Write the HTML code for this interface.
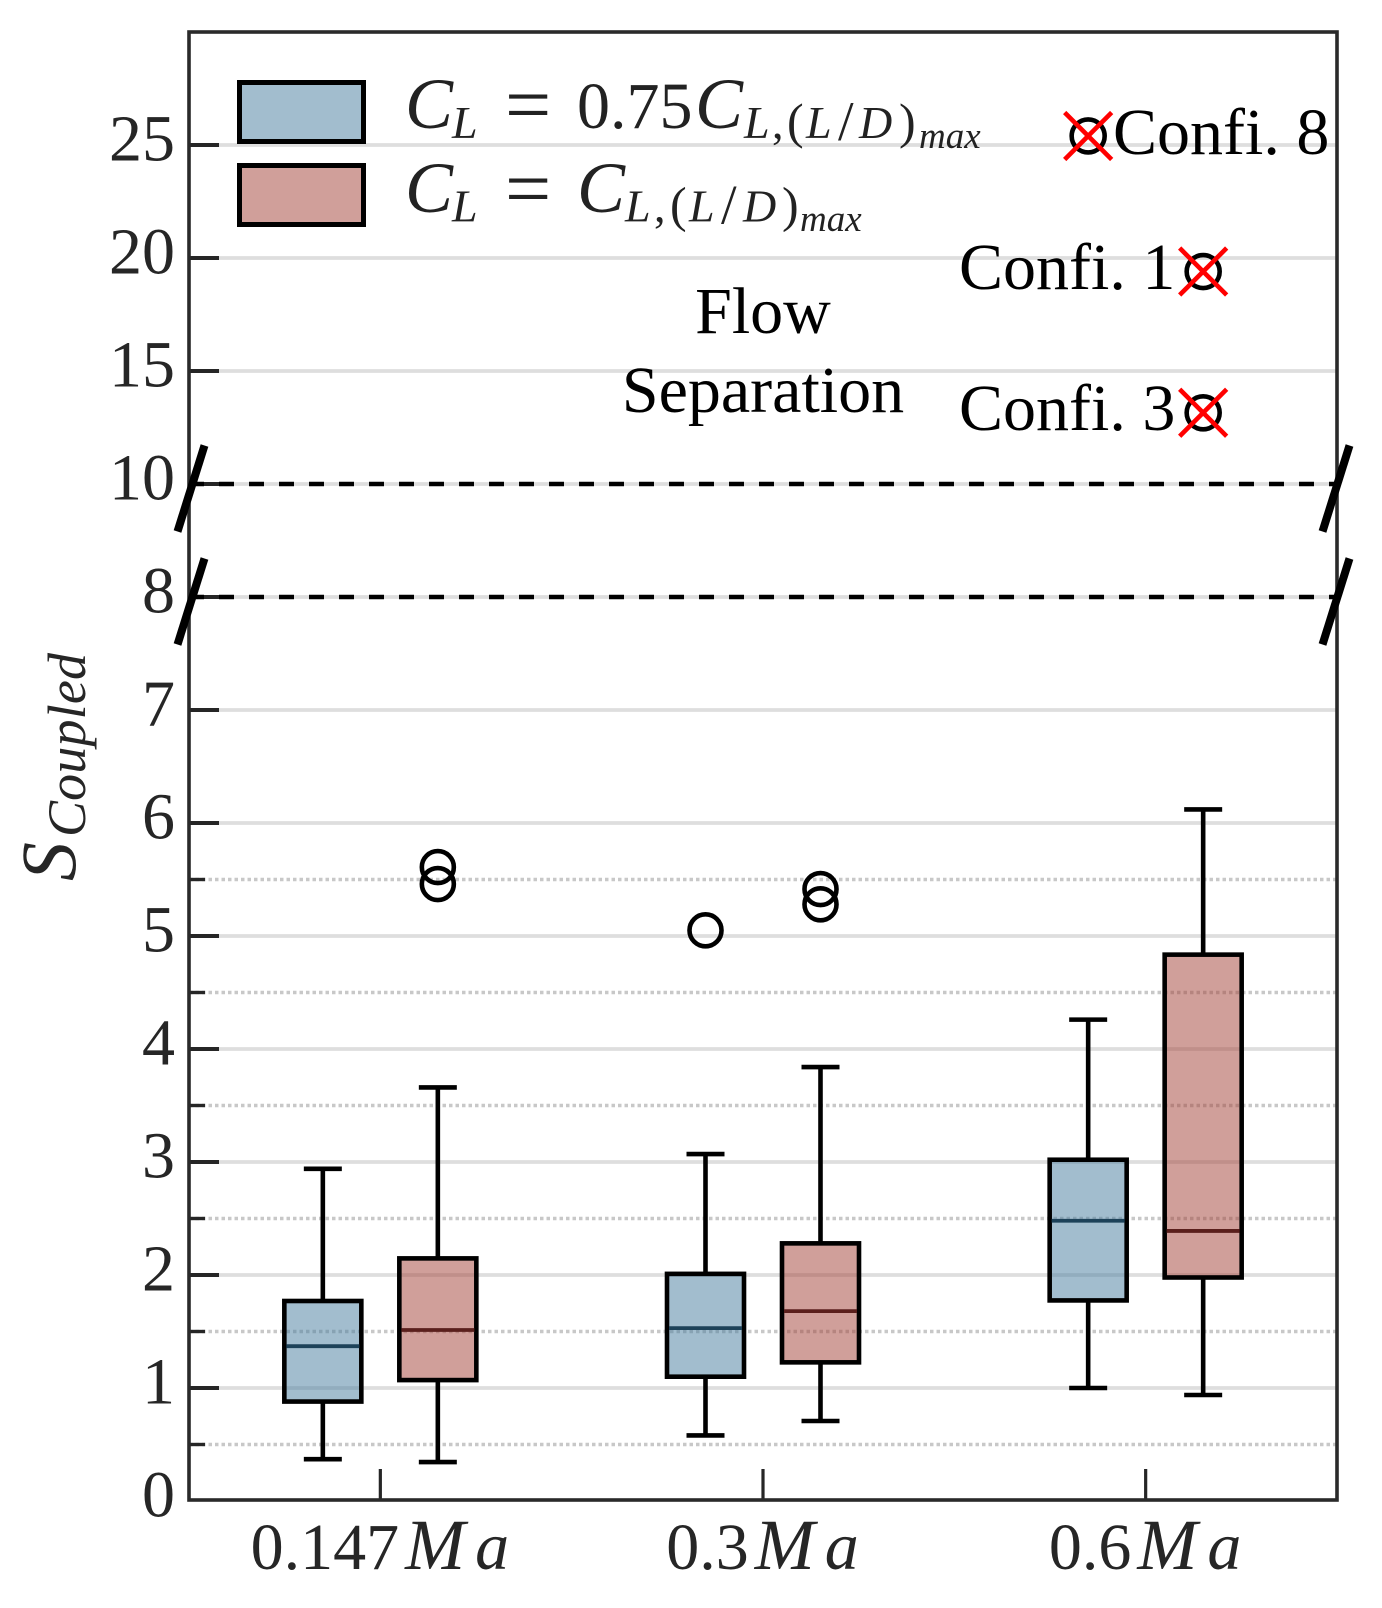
<!DOCTYPE html>
<html lang="en">
<head>
<meta charset="utf-8">
<title>S Coupled box plot</title>
<style>
html,body{margin:0;padding:0;background:#fff;width:1382px;height:1608px;overflow:hidden}
svg{display:block;font-family:"Liberation Serif",serif}
.it{font-style:italic}
</style>
</head>
<body>
<svg id="chart" xmlns="http://www.w3.org/2000/svg" width="1382" height="1608" viewBox="0 0 1382 1608">
  <rect x="0" y="0" width="1382" height="1608" fill="#fff"/>
  <g id="grid"></g>
  <g id="ticks"></g>
  <g id="boxes"></g>
  <g id="markers"></g>
  <g id="frame"></g>

  <g>
    <rect x="239.5" y="82.5" width="124" height="59" fill="#a2bdce" stroke="#000" stroke-width="5"/>
    <rect x="239.5" y="165.5" width="124" height="59" fill="#d09f9a" stroke="#000" stroke-width="5"/>
    <text fill="#222" font-size="72">
      <tspan class="it" x="405" y="128">C</tspan><tspan class="it" x="452" y="138" font-size="46">L</tspan><tspan x="505" y="132" font-size="82">=</tspan><tspan x="577" y="128" font-size="66">0.75</tspan><tspan class="it" x="695" y="128">C</tspan><tspan class="it" x="744" y="138" font-size="46">L</tspan><tspan x="772" y="138" font-size="46">,</tspan><tspan x="787" y="138" font-size="50">(</tspan><tspan class="it" x="806" y="138" font-size="46">L</tspan><tspan x="838" y="140" font-size="56">/</tspan><tspan class="it" x="859" y="138" font-size="46">D</tspan><tspan x="899" y="138" font-size="50">)</tspan><tspan class="it" x="919" y="148" font-size="37">max</tspan>
    </text>
    <text fill="#222" font-size="72">
      <tspan class="it" x="405" y="212">C</tspan><tspan class="it" x="452" y="221.5" font-size="46">L</tspan><tspan x="505" y="216" font-size="82">=</tspan><tspan class="it" x="577" y="212">C</tspan><tspan class="it" x="625" y="221.5" font-size="46">L</tspan><tspan x="654" y="221.5" font-size="46">,</tspan><tspan x="670" y="221.5" font-size="50">(</tspan><tspan class="it" x="689" y="221.5" font-size="46">L</tspan><tspan x="721" y="223.5" font-size="56">/</tspan><tspan class="it" x="743" y="221.5" font-size="46">D</tspan><tspan x="782" y="221.5" font-size="50">)</tspan><tspan class="it" x="800" y="231" font-size="37">max</tspan>
    </text>
  </g>

  <text x="763" y="333" font-size="66" text-anchor="middle" fill="#000">Flow</text>
  <text x="763" y="412" font-size="66" text-anchor="middle" fill="#000">Separation</text>
  <text x="1113" y="154" font-size="66" fill="#000">Confi. 8</text>
  <text x="959" y="289" font-size="66" fill="#000">Confi. 1</text>
  <text x="959" y="430" font-size="66" fill="#000">Confi. 3</text>

  <g fill="#262626">
    <text class="it" transform="translate(75,881) rotate(-90)" font-size="78">S</text>
    <text class="it" transform="translate(85,837) rotate(-90)" font-size="54" textLength="184" lengthAdjust="spacing">Coupled</text>
  </g>
</svg>

<script>
// ---- chart data ----
const categories = ["0.147", "0.3", "0.6"];
const categoryUnit = ["M", "a"];
const yTickLabels = ["0", "1", "2", "3", "4", "5", "6", "7", "8", "10", "15", "20", "25"];
const yTickValues = [0, 1, 2, 3, 4, 5, 6, 7, 8, 10, 15, 20, 25];
const yMinorTicks = [0.5, 1.5, 2.5, 3.5, 4.5, 5.5];
const yDashedLines = [8, 10];
const yAxisMax = 30;

const blueWhiskerHigh = [2.94, 3.07, 4.26];
const blueQ3 = [1.77, 2.01, 3.02];
const blueMedian = [1.37, 1.53, 2.48];
const blueQ1 = [0.88, 1.10, 1.775];
const blueWhiskerLow = [0.37, 0.58, 1.0];
const blueOutliers = [[], [5.05], []];

const redWhiskerHigh = [3.66, 3.84, 6.12];
const redQ3 = [2.147, 2.28, 4.835];
const redMedian = [1.513, 1.68, 2.39];
const redQ1 = [1.07, 1.227, 1.978];
const redWhiskerLow = [0.345, 0.708, 0.938];
const redOutliers = [[5.61, 5.46], [5.415, 5.28], []];

const confiValues = [25.4, 19.4, 13.15];
const confiCategory = [2, 2, 2];
const confiSeries = [0, 1, 1];

// ---- axis functions ----
const NS = "http://www.w3.org/2000/svg";
const plotLeft = 189, plotRight = 1337, plotTop = 32, plotBottom = 1500;
const zeroY = 1501, stepY = 113;
const bandW = (plotRight - plotLeft) / categories.length;
const seriesOffset = 57.5;

function yScale(v) {
  const t = yTickValues.concat([yAxisMax]);
  let i = 0;
  while (i < t.length - 2 && v > t[i + 1]) i++;
  const p = i + (v - t[i]) / (t[i + 1] - t[i]);
  return zeroY - stepY * p;
}
function xBand(i) { return plotLeft + (i + 0.5) * bandW; }
function xSeries(i, s) { return xBand(i) + (s === 0 ? -seriesOffset : seriesOffset); }

function make(parent, tag, attrs) {
  const el = document.createElementNS(NS, tag);
  for (const k in attrs) el.setAttribute(k, attrs[k]);
  parent.appendChild(el);
  return el;
}
const gGrid = document.getElementById("grid");
const gTicks = document.getElementById("ticks");
const gBoxes = document.getElementById("boxes");
const gMarkers = document.getElementById("markers");
const gFrame = document.getElementById("frame");

// ---- grid + y ticks ----
yTickValues.forEach(function (v, i) {
  const y = yScale(v);
  if (v !== 0) {
    const g = make(gGrid, "line", {x1: plotLeft, x2: plotRight, y1: y, y2: y, stroke: "#dedede", "stroke-width": 3.8});
    
    
    const t = make(gTicks, "line", {x1: plotLeft, x2: plotLeft + 30, y1: y, y2: y, stroke: "#262626", "stroke-width": 4});
    
    
  }
  const lab = make(gTicks, "text", {x: 175, y: y + 15.5, "text-anchor": "end", "font-size": 66, fill: "#262626"});
  lab.textContent = yTickLabels[i];
  
  
});
yMinorTicks.forEach(function (v) {
  const y = yScale(v);
  const g = make(gGrid, "line", {x1: plotLeft, x2: plotRight, y1: y, y2: y, stroke: "#c8c8c8", "stroke-width": 3.6, "stroke-dasharray": "3.5 3"});
  
  
  const t = make(gTicks, "line", {x1: plotLeft, x2: plotLeft + 16, y1: y, y2: y, stroke: "#262626", "stroke-width": 3.4});
  
  
});
yDashedLines.forEach(function (v) {
  const y = yScale(v);
  const d = make(gTicks, "line", {x1: plotLeft, x2: plotRight, y1: y, y2: y, stroke: "#000", "stroke-width": 4.4, "stroke-dasharray": "15 15"});
  
  
});

// ---- x ticks + labels ----
categories.forEach(function (c, i) {
  const x = xBand(i);
  const t = make(gTicks, "line", {x1: x, x2: x, y1: plotBottom - 31, y2: plotBottom, stroke: "#262626", "stroke-width": 3.2});
  
  
  const baseline = 1569;
  const num = make(gTicks, "text", {x: 0, y: baseline, "font-size": 66, fill: "#262626"});
  num.textContent = c;
  
  
  const w = num.getComputedTextLength();
  const start = x - (w + 108) / 2 - 1.5;
  num.setAttribute("x", start);
  const m = make(gTicks, "text", {x: start + w + 6, y: baseline, "font-size": 72, "font-style": "italic", fill: "#262626"});
  m.textContent = categoryUnit[0];
  
  
  const a = make(gTicks, "text", {x: start + w + 76, y: baseline, "font-size": 68, "font-style": "italic", fill: "#262626"});
  a.textContent = categoryUnit[1];
  
  
});

// ---- boxes ----
const boxW = 77, capW = 38, markStroke = 4.6;
function drawBox(i, s, hi, q3, med, q1, lo, outs, fill, medColor) {
  const x = xSeries(i, s);
  const wh = make(gBoxes, "line", {x1: x, x2: x, y1: yScale(hi), y2: yScale(q3), stroke: "#000", "stroke-width": markStroke});
  
  
  const wl = make(gBoxes, "line", {x1: x, x2: x, y1: yScale(q1), y2: yScale(lo), stroke: "#000", "stroke-width": markStroke});
  
  
  const ch = make(gBoxes, "line", {x1: x - capW / 2, x2: x + capW / 2, y1: yScale(hi), y2: yScale(hi), stroke: "#000", "stroke-width": markStroke});
  
  
  const cl = make(gBoxes, "line", {x1: x - capW / 2, x2: x + capW / 2, y1: yScale(lo), y2: yScale(lo), stroke: "#000", "stroke-width": markStroke});
  
  
  const r = make(gBoxes, "rect", {x: x - boxW / 2, y: yScale(q3), width: boxW, height: yScale(q1) - yScale(q3), fill: fill, "fill-opacity": 0.5, stroke: "#000", "stroke-width": markStroke});
  
  
  const m = make(gBoxes, "line", {x1: x - boxW / 2 + 2, x2: x + boxW / 2 - 2, y1: yScale(med), y2: yScale(med), stroke: medColor, "stroke-width": 3.8});
  
  
  outs.forEach(function (v) {
    const o = make(gBoxes, "circle", {cx: x, cy: yScale(v), r: 16, fill: "none", stroke: "#000", "stroke-width": markStroke});
    
    
  });
}
categories.forEach(function (c, i) {
  drawBox(i, 0, blueWhiskerHigh[i], blueQ3[i], blueMedian[i], blueQ1[i], blueWhiskerLow[i], blueOutliers[i], "#457b9d", "#1d4259");
  drawBox(i, 1, redWhiskerHigh[i], redQ3[i], redMedian[i], redQ1[i], redWhiskerLow[i], redOutliers[i], "#a13f35", "#5a1f1c");
});

// ---- flow-separation markers ----
confiValues.forEach(function (v, k) {
  const x = xSeries(confiCategory[k], confiSeries[k]);
  const y = yScale(v);
  const c = make(gMarkers, "circle", {cx: x, cy: y, r: 16.5, fill: "none", stroke: "#000", "stroke-width": markStroke});
  
  
  const a = make(gMarkers, "line", {x1: x - 23.5, y1: y - 23.5, x2: x + 23.5, y2: y + 23.5, stroke: "#f00", "stroke-width": markStroke});
  
  
  const b = make(gMarkers, "line", {x1: x - 23.5, y1: y + 23.5, x2: x + 23.5, y2: y - 23.5, stroke: "#f00", "stroke-width": markStroke});
  
  
});

// ---- frame + break marks ----
const spine = make(gFrame, "rect", {x: plotLeft, y: plotTop, width: plotRight - plotLeft, height: plotBottom - plotTop, fill: "none", stroke: "#2a2a2a", "stroke-width": 3.6});


yDashedLines.forEach(function (v) {
  const y = yScale(v) + 4.5;
  [plotLeft + 2, plotRight - 1].forEach(function (x) {
    const s = make(gFrame, "line", {x1: x - 13.5, y1: y + 43, x2: x + 13.5, y2: y - 43, stroke: "#000", "stroke-width": 8});
    
    
  });
});
</script>
</body>
</html>
